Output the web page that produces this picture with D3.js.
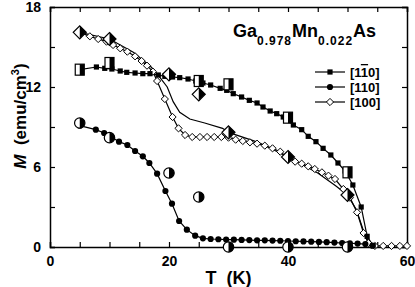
<!DOCTYPE html>
<html>
<head>
<meta charset="utf-8">
<script src="https://cdnjs.cloudflare.com/ajax/libs/d3/7.8.5/d3.min.js"></script>
<style>
  body { margin: 0; background: #fff; }
  svg text { font-family: "Liberation Sans", Arial, sans-serif; font-weight: bold; white-space: pre; }
</style>
</head>
<body>
<div id="chart"></div>
<script>
// [1-10] small filled squares
var sqT = [5, 7.8, 9.2, 10.4, 11.8, 12.9, 14.3, 15.6, 16.8, 18.2, 19.3, 20.6, 21.8, 23.2, 24.5, 25.7, 27, 28.6, 29.7, 30.8, 32.2, 33.5, 34.8, 35.8, 37, 38.1, 39.2, 40.9, 42.3, 43.4, 44.7, 45.9, 47.2, 48.4, 49.6, 50.9, 52.3, 53.3, 54.3];
var sqM = [13.3, 13.5, 13.4, 13.35, 13.2, 13.1, 13.05, 13.0, 13.0, 12.9, 12.8, 12.75, 12.7, 12.6, 12.45, 12.3, 12.15, 11.9, 11.75, 11.5, 11.25, 11.0, 10.8, 10.5, 10.2, 10.0, 9.75, 9.15, 8.8, 8.3, 7.9, 7.4, 6.9, 6.3, 5.7, 4.65, 3.0, 0.8, 0.1];

// [110] small filled circles
var ciT = [5, 7.7, 9.1, 10.3, 11.6, 13, 14.3, 15.6, 16.7, 18, 19.4, 20.5, 21.7, 23, 24.4, 25.7, 27, 28.3, 29.6, 30.9, 32.2, 33.5, 34.8, 36.1, 37.4, 38.7, 40, 41.3, 42.6, 43.9, 45.2, 46.5, 47.8, 49.1, 50.4, 51.7, 53, 54.2];
var ciM = [9.1, 8.8, 8.55, 8.25, 7.9, 7.65, 7.2, 6.8, 6.3, 5.5, 4.2, 3.25, 1.95, 1.3, 0.85, 0.65, 0.6, 0.58, 0.56, 0.55, 0.53, 0.52, 0.5, 0.5, 0.48, 0.47, 0.45, 0.43, 0.42, 0.4, 0.38, 0.36, 0.33, 0.3, 0.28, 0.26, 0.22, 0.1];

// [100] small open diamonds
var diT = [5, 6.7, 8.1, 9.5, 10.6, 11.8, 13, 14.3, 15.4, 16.3, 17.3, 18, 19.3, 20.6, 21.6, 22.7, 23.9, 25.2, 26.4, 27.6, 28.8, 30, 31.2, 32.4, 33.6, 34.8, 36.1, 37.4, 38.7, 39.8, 41.2, 42.3, 43.4, 44.5, 45.7, 46.8, 47.9, 49.3, 50.4, 51.6, 52.7, 53.5, 54.6, 56, 57.4, 58.8, 60];
var diM = [16.1, 15.8, 15.6, 15.4, 15.15, 14.9, 14.65, 14.3, 13.95, 13.6, 13.15, 12.45, 11.1, 9.75, 8.9, 8.4, 8.25, 8.25, 8.25, 8.25, 8.25, 8.2, 8.05, 7.95, 7.85, 7.75, 7.6, 7.4, 7.15, 6.75, 6.4, 6.25, 6.05, 5.85, 5.6, 5.35, 5.1, 4.35, 3.7, 2.6, 1.05, 0.3, 0.08, 0.08, 0.08, 0.08, 0.08];

// solid curve without markers
var fitT = [5, 10, 14, 17, 18.5, 19.7, 20.7, 21.8, 23.5, 26, 29, 30, 35, 40, 45, 48, 50, 51.5, 53, 54];
var fitM = [16.1, 15.6, 14.6, 13.5, 12.7, 12.0, 10.9, 10.1, 9.6, 9.3, 8.9, 8.6, 7.85, 6.75, 5.55, 4.6, 3.9, 2.8, 0.8, 0.1];

// big half-filled markers
var bigSqT = [5, 10, 25, 30, 40, 50];
var bigSqM = [13.3, 13.8, 12.45, 12.2, 9.7, 5.6];
var bigCiT = [5, 10, 20, 25, 30, 40, 50];
var bigCiM = [9.3, 8.2, 5.55, 3.75, 0, 0, 0];
var bigDiT = [5, 10, 20, 25, 30, 40, 50];
var bigDiM = [16.1, 15.6, 12.95, 11.45, 8.6, 6.75, 3.9];

var xTicks = [0, 5, 10, 15, 20, 25, 30, 35, 40, 45, 50, 55, 60];
var xLabels = [0, 20, 40, 60];
var yTicks = [0, 3, 6, 9, 12, 15, 18];
var yLabels = [0, 6, 12, 18];

// [1 1-bar 0]: the middle "1" carries the bar
var legendNames = [["[1", "1", "0]"], ["[110]"], ["[100]"]];

var width = 415, height = 287;
var margin = {top: 7, right: 8, bottom: 40, left: 50};

var svg = d3.select("#chart").append("svg")
    .attr("width", width)
    .attr("height", height);

var x = d3.scaleLinear().domain([0, 60]).range([margin.left, width - margin.right]);
var y = d3.scaleLinear().domain([0, 18]).range([height - margin.bottom, margin.top]);

function zip(a, b) { return a.map(function(v, i) { return [v, b[i]]; }); }

var line = d3.line().x(d => x(d[0])).y(d => y(d[1]));

// axes, ticks inward on all four sides
var tl = 5;
svg.append("g").attr("transform", "translate(0," + y(0) + ")")
    .call(d3.axisBottom(x).tickValues(xTicks).tickSize(-tl).tickPadding(tl + 4)
        .tickFormat(d => xLabels.indexOf(d) >= 0 ? d : ""));
svg.append("g").attr("transform", "translate(0," + y(18) + ")")
    .call(d3.axisTop(x).tickValues(xTicks).tickSize(-tl).tickFormat(""));
svg.append("g").attr("transform", "translate(" + x(0) + ",0)")
    .call(d3.axisLeft(y).tickValues(yTicks).tickSize(-tl).tickPadding(tl + 4)
        .tickFormat(d => yLabels.indexOf(d) >= 0 ? d : ""));
svg.append("g").attr("transform", "translate(" + x(60) + ",0)")
    .call(d3.axisRight(y).tickValues(yTicks).tickSize(-tl).tickFormat(""));

svg.selectAll(".domain").attr("stroke", "#000").attr("stroke-width", 1.5);
svg.selectAll(".tick line").attr("stroke", "#000").attr("stroke-width", 1.2);
svg.selectAll(".tick text").attr("font-size", 14).attr("fill", "#000")
    .style("font-family", "'Liberation Sans', Arial, sans-serif").style("font-weight", "bold");

// axis titles
svg.append("text")
    .attr("x", x(30)).attr("y", 284)
    .attr("text-anchor", "middle").attr("font-size", 18)
    .text("T  (K)");

var yl = svg.append("text")
    .attr("transform", "translate(26," + 116 + ") rotate(-90)")
    .attr("text-anchor", "middle").attr("font-size", 17);
yl.append("tspan").attr("font-style", "italic").text("M");
yl.append("tspan").text("  (emu/cm");
yl.append("tspan").attr("font-size", 11).attr("dy", -7).text("3");
yl.append("tspan").attr("dy", 7).text(")");

// title
var tt = svg.append("text").attr("x", 233).attr("y", 37).attr("font-size", 18);
tt.append("tspan").text("Ga");
tt.append("tspan").attr("font-size", 12).attr("dy", 8).attr("letter-spacing", 1).text("0.978");
tt.append("tspan").attr("dy", -8).text("Mn");
tt.append("tspan").attr("font-size", 12).attr("dy", 8).attr("letter-spacing", 1).text("0.022");
tt.append("tspan").attr("dy", -8).text("As");

var plot = svg.append("g");

// lines
[zip(fitT, fitM), zip(diT, diM), zip(ciT, ciM), zip(sqT, sqM)].forEach(function(d) {
    plot.append("path").datum(d)
        .attr("d", line)
        .attr("fill", "none").attr("stroke", "#000").attr("stroke-width", 1.2);
});

function diamond(s) {
    return "M0," + (-s) + "L" + s + ",0L0," + s + "L" + (-s) + ",0Z";
}

// small markers
plot.selectAll(".di").data(zip(diT, diM)).enter().append("path")
    .attr("transform", d => "translate(" + x(d[0]) + "," + y(d[1]) + ")")
    .attr("d", diamond(3.6))
    .attr("fill", "#fff").attr("stroke", "#000").attr("stroke-width", 1);
plot.selectAll(".ci").data(zip(ciT, ciM)).enter().append("circle")
    .attr("cx", d => x(d[0])).attr("cy", d => y(d[1])).attr("r", 3.1)
    .attr("fill", "#000");
plot.selectAll(".sq").data(zip(sqT, sqM)).enter().append("rect")
    .attr("x", d => x(d[0]) - 2.6).attr("y", d => y(d[1]) - 2.6)
    .attr("width", 5.2).attr("height", 5.2)
    .attr("fill", "#000");

// big half-filled markers (right half black)
var bs = plot.selectAll(".bs").data(zip(bigSqT, bigSqM)).enter().append("g")
    .attr("transform", d => "translate(" + x(d[0]) + "," + y(d[1]) + ")");
bs.append("rect").attr("x", -4.5).attr("y", -5.5).attr("width", 9).attr("height", 11)
    .attr("fill", "#fff").attr("stroke", "#000").attr("stroke-width", 1.2);
bs.append("rect").attr("x", 0).attr("y", -5.5).attr("width", 4.5).attr("height", 11)
    .attr("fill", "#000");

var bc = plot.selectAll(".bc").data(zip(bigCiT, bigCiM)).enter().append("g")
    .attr("transform", d => "translate(" + x(d[0]) + "," + y(d[1]) + ")");
bc.append("circle").attr("r", 5.2)
    .attr("fill", "#fff").attr("stroke", "#000").attr("stroke-width", 1.2);
bc.append("path").attr("d", "M0,-5.2A5.2,5.2 0 0 1 0,5.2Z").attr("fill", "#000");

var bd = plot.selectAll(".bd").data(zip(bigDiT, bigDiM)).enter().append("g")
    .attr("transform", d => "translate(" + x(d[0]) + "," + y(d[1]) + ")");
bd.append("path").attr("d", diamond(6.5))
    .attr("fill", "#fff").attr("stroke", "#000").attr("stroke-width", 1.2);
bd.append("path").attr("d", "M0,-6.5L6.5,0L0,6.5Z").attr("fill", "#000");

// legend
var leg = svg.append("g").attr("transform", "translate(315,72)");
legendNames.forEach(function(parts, i) {
    var g = leg.append("g").attr("transform", "translate(0," + i * 15 + ")");
    g.append("line").attr("x1", 0).attr("x2", 30).attr("stroke", "#000").attr("stroke-width", 1.2);
    if (i === 0) g.append("rect").attr("x", 12.4).attr("y", -2.6).attr("width", 5.2).attr("height", 5.2).attr("fill", "#000");
    if (i === 1) g.append("circle").attr("cx", 15).attr("r", 3.1).attr("fill", "#000");
    if (i === 2) g.append("path").attr("transform", "translate(15,0)").attr("d", diamond(3.6))
        .attr("fill", "#fff").attr("stroke", "#000");
    var t = g.append("text").attr("x", 35).attr("y", 5).attr("font-size", 13);
    parts.forEach(function(p, k) {
        var s = t.append("tspan").text(p);
        if (k === 1) s.style("text-decoration", "overline");
    });
});
</script>
</body>
</html>
